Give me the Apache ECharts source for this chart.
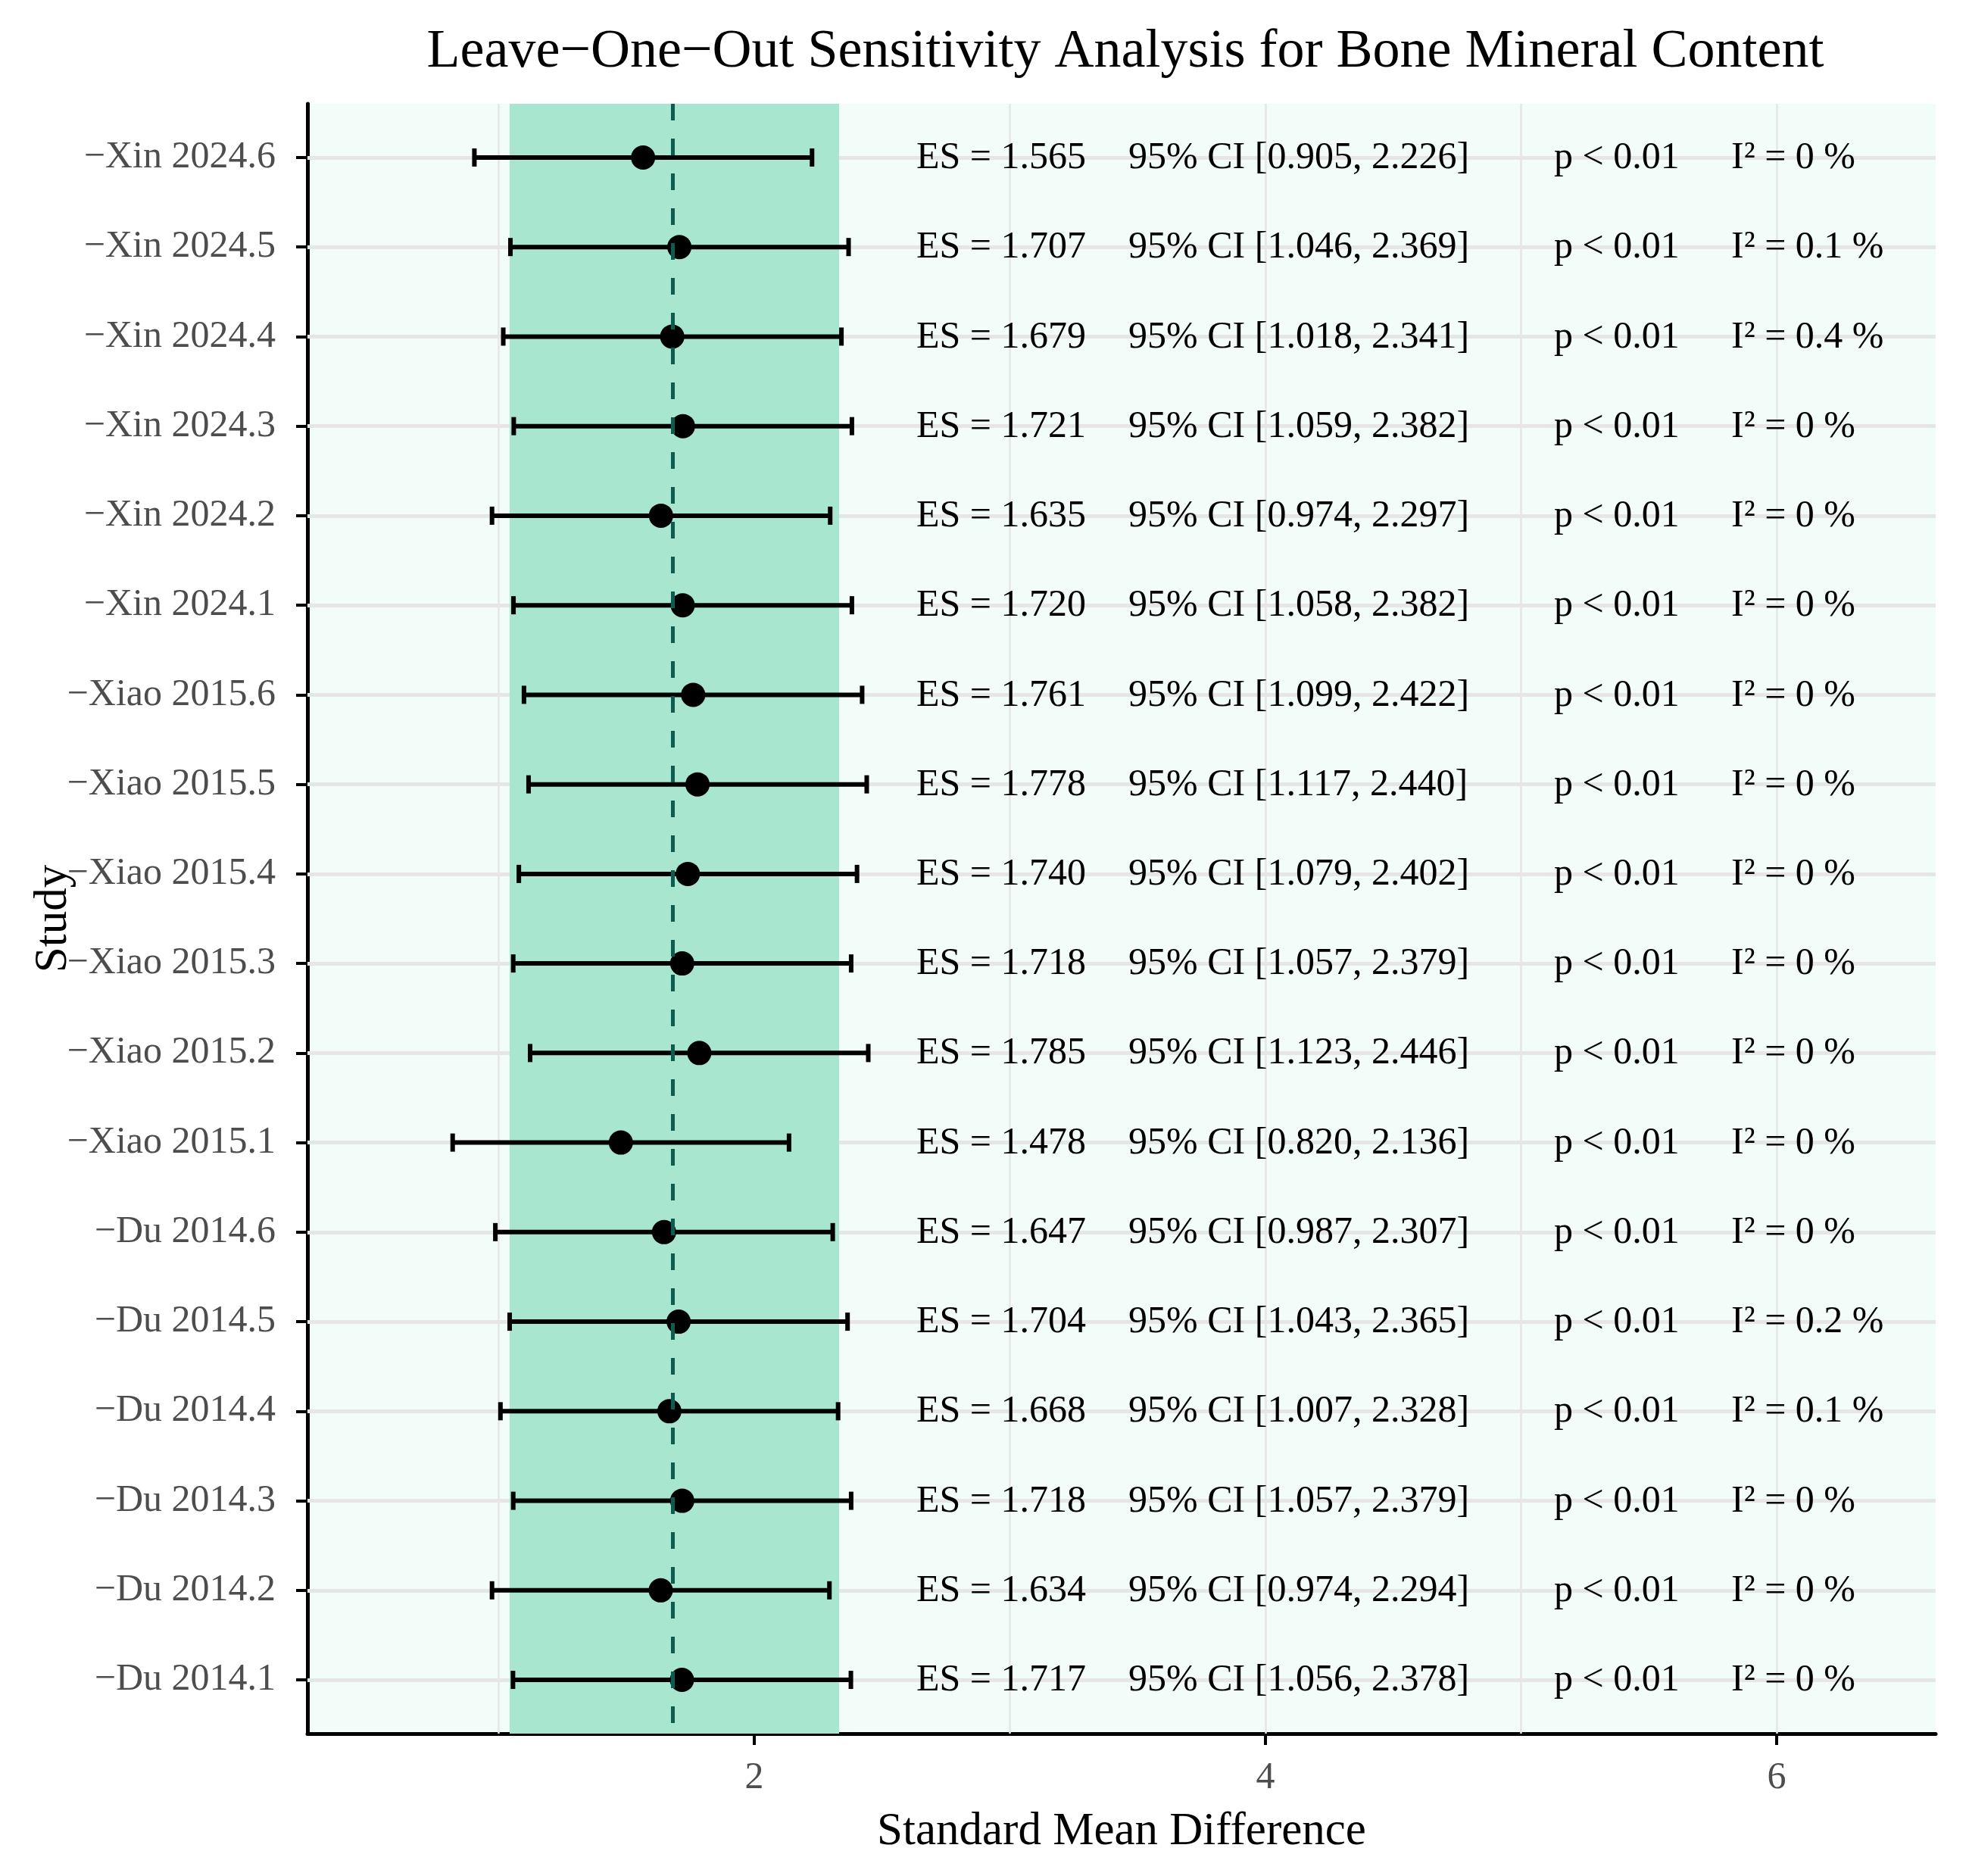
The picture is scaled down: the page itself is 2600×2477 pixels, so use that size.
<!DOCTYPE html>
<html>
<head>
<meta charset="utf-8">
<script src="https://cdn.jsdelivr.net/npm/echarts@6/dist/echarts.min.js"></script>
<style>
html,body{margin:0;padding:0;background:#fff;}
#chart{width:2600px;height:2477px;}
</style>
</head>
<body>
<div id="chart"></div>
<script>
// ---- data ----
const studies = ["−Xin 2024.6","−Xin 2024.5","−Xin 2024.4","−Xin 2024.3","−Xin 2024.2","−Xin 2024.1",
  "−Xiao 2015.6","−Xiao 2015.5","−Xiao 2015.4","−Xiao 2015.3","−Xiao 2015.2","−Xiao 2015.1",
  "−Du 2014.6","−Du 2014.5","−Du 2014.4","−Du 2014.3","−Du 2014.2","−Du 2014.1"];
const es    = [1.565,1.707,1.679,1.721,1.635,1.720,1.761,1.778,1.740,1.718,1.785,1.478,1.647,1.704,1.668,1.718,1.634,1.717];
const lower = [0.905,1.046,1.018,1.059,0.974,1.058,1.099,1.117,1.079,1.057,1.123,0.820,0.987,1.043,1.007,1.057,0.974,1.056];
const upper = [2.226,2.369,2.341,2.382,2.297,2.382,2.422,2.440,2.402,2.379,2.446,2.136,2.307,2.365,2.328,2.379,2.294,2.378];
const i2    = [0,0.1,0.4,0,0,0,0,0,0,0,0,0,0,0.2,0.1,0,0,0];
const pText = ["< 0.01","< 0.01","< 0.01","< 0.01","< 0.01","< 0.01","< 0.01","< 0.01","< 0.01",
  "< 0.01","< 0.01","< 0.01","< 0.01","< 0.01","< 0.01","< 0.01","< 0.01","< 0.01"];
const pooledES = 1.684;
const pooledCI = [1.043, 2.332];
const xTicks = [2, 4, 6];
const xGridLines = [1, 2, 3, 4, 5, 6];
// text column anchors (data units on x)
const colES = 2.634, colCI = 3.464, colP = 5.129, colI2 = 5.822;

const FONT = '"Liberation Serif", "Times New Roman", serif';
const rows = studies.map((s, i) => i);

const errData = rows.map(i => [i, lower[i], upper[i]]);
const ptData = rows.map(i => [es[i], i]);
const txtData = rows.map(i => [i, es[i], lower[i], upper[i], i2[i]]);

const chart = echarts.init(document.getElementById('chart'), null, {renderer: 'canvas'});
chart.setOption({
  animation: false,
  backgroundColor: '#ffffff',
  title: {
    text: 'Leave−One−Out Sensitivity Analysis for Bone Mineral Content',
    left: 1481, top: 28, textAlign: 'center',
    textStyle: {fontFamily: FONT, fontSize: 72, fontWeight: 'normal', color: '#000'}
  },
  grid: {left: 406, right: 44, top: 137, bottom: 188, show: true, backgroundColor: '#f2fcf8', borderWidth: 0},
  xAxis: {
    type: 'value', min: 0.252, max: 6.622,
    name: 'Standard Mean Difference', nameLocation: 'middle', nameGap: 99,
    nameTextStyle: {fontFamily: FONT, fontSize: 61, color: '#000'},
    axisLine: {onZero: false, lineStyle: {color: '#000', width: 5}},
    axisTick: {show: true, customValues: xTicks, length: 15, lineStyle: {color: '#000', width: 4}},
    axisLabel: {customValues: xTicks, margin: 34, fontFamily: FONT, fontSize: 50, color: '#4d4d4d'},
    splitLine: {show: false}
  },
  yAxis: {
    type: 'value', inverse: true, min: -0.6, max: 17.6,
    name: 'Study', nameLocation: 'middle', nameRotate: 90, nameGap: 305, nameMoveOverlap: false,
    nameTextStyle: {fontFamily: FONT, fontSize: 61, color: '#000'},
    axisLine: {onZero: false, lineStyle: {color: '#000', width: 5}},
    axisTick: {show: true, customValues: rows, length: 15, lineStyle: {color: '#000', width: 4}},
    axisLabel: {customValues: rows, margin: 42, fontFamily: FONT, fontSize: 50, color: '#4d4d4d',
      formatter: v => studies[Math.round(v)]},
    splitLine: {show: false}
  },
  series: [
    { // gridlines
      type: 'scatter', data: [], z: 1, silent: true,
      markLine: {
        z: 1, silent: true, symbol: ['none', 'none'], label: {show: false}, animation: false,
        data: rows.map(i => ({yAxis: i, lineStyle: {color: '#e6e6e6', width: 5, type: 'solid'}}))
          .concat(xGridLines.map(v => ({xAxis: v, lineStyle: {color: '#e6e6e6', width: 2.5, type: 'solid'}})))
      }
    },
    { // pooled CI band
      type: 'scatter', data: [], z: 2, silent: true,
      markArea: {z: 2, silent: true, itemStyle: {color: '#a8e6cf', opacity: 1},
        data: [[{xAxis: pooledCI[0]}, {xAxis: pooledCI[1]}]]}
    },
    { // error bars
      type: 'custom', z: 3, silent: true, data: errData,
      encode: {x: [1, 2], y: 0},
      renderItem: function (params, api) {
        const y = api.value(0);
        const a = api.coord([api.value(1), y]);
        const b = api.coord([api.value(2), y]);
        const h = 12;
        const st = {stroke: '#000', lineWidth: 6};
        return {type: 'group', children: [
          {type: 'line', shape: {x1: a[0], y1: a[1], x2: b[0], y2: b[1]}, style: st},
          {type: 'line', shape: {x1: a[0], y1: a[1] - h, x2: a[0], y2: a[1] + h}, style: st},
          {type: 'line', shape: {x1: b[0], y1: b[1] - h, x2: b[0], y2: b[1] + h}, style: st}
        ]};
      }
    },
    { // points
      type: 'scatter', z: 4, silent: true, data: ptData, symbol: 'circle', symbolSize: 32,
      itemStyle: {color: '#000', opacity: 1}
    },
    { // pooled estimate dashed line
      type: 'scatter', data: [], z: 5, silent: true,
      markLine: {z: 5, silent: true, symbol: ['none', 'none'], label: {show: false},
        lineStyle: {color: '#0d5c4e', width: 5, type: [22, 24]},
        data: [{xAxis: pooledES}]}
    },
    { // annotations
      type: 'custom', z: 6, silent: true, data: txtData,
      encode: {x: 1, y: 0},
      renderItem: function (params, api) {
        const i = api.value(0);
        const mk = (xv, text) => {
          const c = api.coord([xv, i]);
          return {type: 'text', x: c[0], y: c[1] + 1, style: {text: text, font: '50px ' + FONT,
            fill: '#000', textAlign: 'left', textVerticalAlign: 'middle'}};
        };
        return {type: 'group', children: [
          mk(colES, 'ES = ' + api.value(1).toFixed(3)),
          mk(colCI, '95% CI [' + api.value(2).toFixed(3) + ', ' + api.value(3).toFixed(3) + ']'),
          mk(colP, 'p ' + pText[i]),
          mk(colI2, 'I² = ' + api.value(4) + ' %')
        ]};
      }
    }
  ]
});
</script>
</body>
</html>
